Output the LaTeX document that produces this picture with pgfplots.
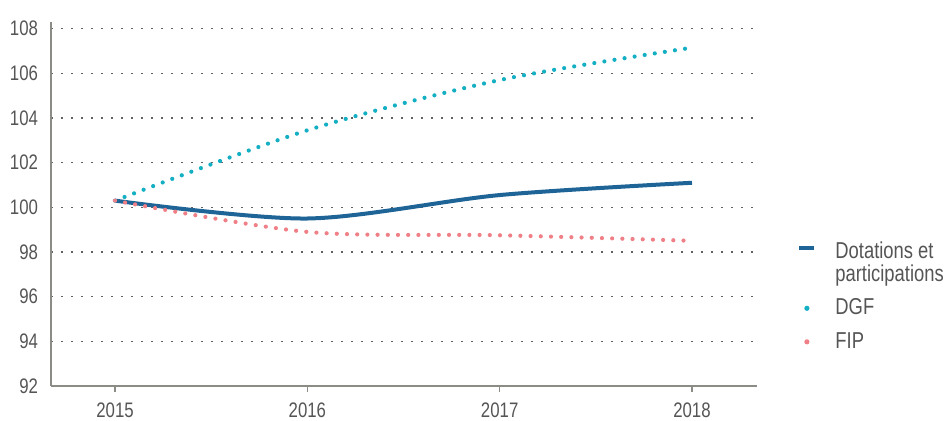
\documentclass[border=0pt]{standalone}
\usepackage{fontspec}
\setmainfont{Liberation Sans}[FakeStretch=0.8]
\usepackage{pgfplots}
\pgfplotsset{compat=1.18}
\definecolor{txtgray}{RGB}{85,85,85}
\definecolor{axgray}{RGB}{140,140,135}
\definecolor{dotblue}{RGB}{30,100,150}
\definecolor{dgfteal}{RGB}{20,175,195}
\definecolor{fippink}{RGB}{240,128,135}
\begin{document}
\begin{tikzpicture}
\path[use as bounding box] (-25.5pt,-17.5pt) rectangle (449.5pt,193pt);
\begin{axis}[
  scale only axis, width=353pt, height=182pt,
  xmin=2014.667, xmax=2018.338, ymin=92, ymax=108.3,
  axis x line*=bottom, axis y line*=left,
  axis line style={axgray, line width=1pt, -},
  xtick={2015,2016,2017,2018}, ytick={92,94,...,108},
  tick align=outside, major tick length=3pt,
  xtick style={axgray, line width=0.7pt},
  ytick style={draw=none},
  ymajorgrids, grid style={black!62, line width=0.75pt, dash pattern=on 0.75pt off 4.25pt},
  /pgf/number format/assume math mode=true,
  /pgf/number format/1000 sep={},
  tick label style={font=\fontsize{10.5}{12}\selectfont, text=txtgray},
  xticklabel style={yshift=-2pt},
  legend style={at={(1.051,0.42)}, anchor=north west, draw=none, fill=none,
    font=\fontsize{11.5}{11.5}\selectfont, text=txtgray,
    nodes={align=left}, cells={anchor=west}, row sep=3.3pt,
    /tikz/every odd column/.append style={column sep=8.5pt}},
]
\addplot[dotblue, line width=2pt, smooth,
  legend image code/.code={\path[draw=none] (0pt,0pt) -- (7.5pt,0pt);
    \draw[overlay, dotblue, line width=2pt] (0pt,7.5pt) -- (7.5pt,7.5pt);}]
  coordinates {(2015,100.3) (2016,99.5) (2017,100.55) (2018,101.1)};
\addlegendentry{Dotations et\\participations}
\addplot[dgfteal, line width=2.1pt, line cap=round, dash pattern=on 0pt off 5.1pt, smooth,
  legend image code/.code={\path[draw=none] (0pt,0pt) -- (7.5pt,0pt);
    \fill[draw=none, dgfteal] (3.75pt,0pt) circle (1.3pt);}]
  coordinates {(2015,100.3) (2016,103.45) (2017,105.7) (2018,107.15)};
\addlegendentry{DGF}
\addplot[fippink, line width=2.1pt, line cap=round, dash pattern=on 0pt off 5.1pt, smooth,
  legend image code/.code={\path[draw=none] (0pt,0pt) -- (7.5pt,0pt);
    \fill[draw=none, fippink] (3.75pt,0pt) circle (1.3pt);}]
  coordinates {(2015,100.3) (2016,98.9) (2017,98.75) (2018,98.5)};
\addlegendentry{FIP}
\end{axis}
\end{tikzpicture}
\end{document}
